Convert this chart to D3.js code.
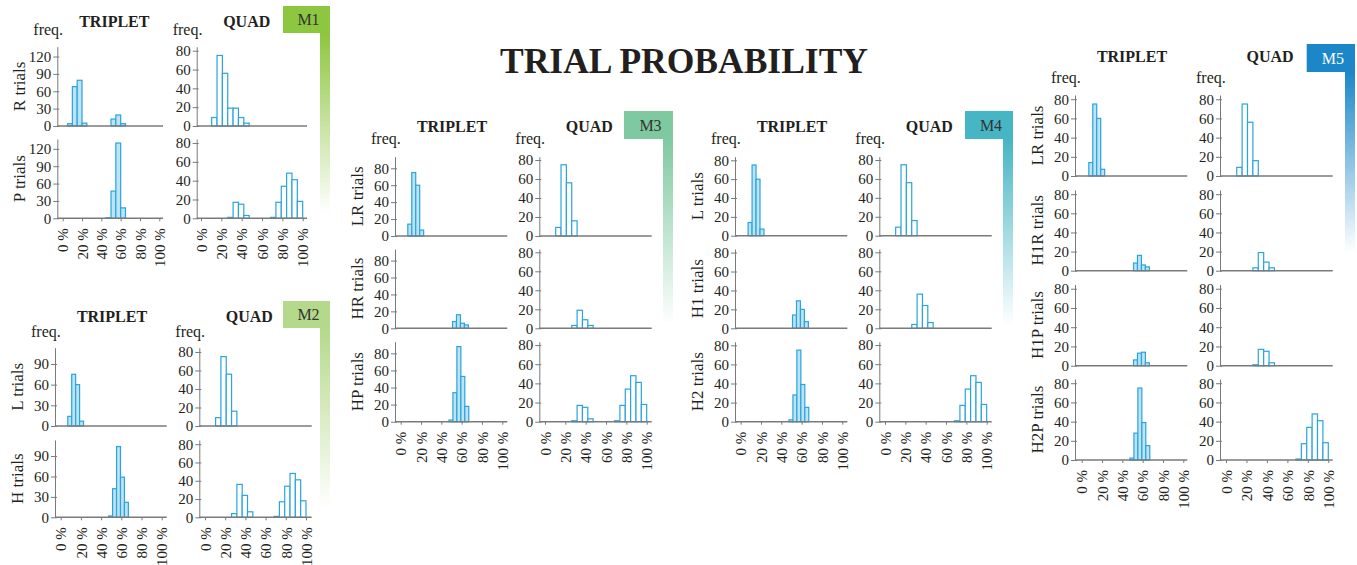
<!DOCTYPE html>
<html>
<head>
<meta charset="utf-8">
<script src="https://cdn.jsdelivr.net/npm/d3@7"></script>
<style>
  body { margin: 0; background: #fff; }
  svg text { font-family: "Liberation Serif", "DejaVu Serif", serif; fill: #231f20; }
  .head { font-weight: bold; font-size: 16px; }
  .freq { font-size: 16px; }
  .rowlab { font-size: 17px; }
  .tick text { font-size: 15px; font-family: "Liberation Serif", serif; fill: #231f20; }
  .mlab { font-size: 16px; }
  .title { font-size: 36px; font-weight: bold; }
</style>
</head>
<body>
<script>
// ---- data ----
var pctTicks = [0, 20, 40, 60, 80, 100];
var freqTicks = [0, 20, 40, 60, 80];
var m1TripletTicks = [0, 30, 60, 90, 120];
var m2TripletTicks = [0, 30, 60, 90];
var quadBin = 100 / 19;   // quad histogram bin width (%)

// each histogram: list of clusters [start %, [counts of consecutive bins]]
var m1Rows = ["R trials", "P trials"];
var m1Triplet = [
	[[5, [4, 68, 79, 5]], [50, [12, 19, 4]]],
	[[45, [1, 47, 130, 18]]]
];
var m1Quad = [
	[[10.5, [9, 75, 56, 19, 19, 9, 3]]],
	[[26.3, [1, 17, 15, 3]], [68.4, [1, 17, 34, 48, 41, 18]]]
];

var m2Rows = ["L trials", "H trials"];
var m2Triplet = [
	[[7, [14, 75, 60, 7]]],
	[[47.5, [2, 42, 104, 59, 22]]]
];
var m2Quad = [
	[[10.5, [9, 75, 56, 16]]],
	[[26.3, [4, 36, 24, 6]], [68.4, [1, 17, 34, 48, 41, 18]]]
];

var m3Rows = ["LR trials", "HR trials", "HP trials"];
var m3Triplet = [
	[[7, [14, 75, 60, 7]]],
	[[51, [8, 16, 6, 4]]],
	[[47.5, [2, 34, 88, 53, 18]]]
];
var m3Quad = [
	[[10.5, [9, 75, 56, 16]]],
	[[26.3, [3, 19, 9, 3]]],
	[[26.3, [1, 17, 15, 3]], [68.4, [1, 17, 34, 48, 41, 18]]]
];

var m4Rows = ["L trials", "H1 trials", "H2 trials"];
var m4Triplet = [
	[[7.3, [14, 75, 60, 7]]],
	[[51, [14, 29, 20, 7]]],
	[[47.5, [2, 28, 75, 39, 15]]]
];
var m4Quad = [
	[[10.5, [9, 75, 56, 16]]],
	[[26.3, [4, 36, 24, 6]]],
	[[68.4, [1, 17, 34, 48, 41, 18]]]
];

var m5Rows = ["LR trials", "H1R trials", "H1P trials", "H2P trials"];
var m5Triplet = [
	[[7, [14, 75, 60, 7]]],
	[[51, [8, 16, 6, 4]]],
	[[51, [6, 13, 14, 3]]],
	[[47.5, [2, 28, 75, 39, 15]]]
];
var m5Quad = [
	[[10.5, [9, 75, 56, 16]]],
	[[26.3, [3, 19, 9, 3]]],
	[[26.3, [1, 17, 15, 3]]],
	[[68.4, [1, 17, 34, 48, 41, 18]]]
];

var modules = [
	{ name: "M1", rows: m1Rows, triplet: m1Triplet, quad: m1Quad, tripBin: 5, tripTicks: m1TripletTicks },
	{ name: "M2", rows: m2Rows, triplet: m2Triplet, quad: m2Quad, tripBin: 3.9, tripTicks: m2TripletTicks },
	{ name: "M3", rows: m3Rows, triplet: m3Triplet, quad: m3Quad, tripBin: 3.9, tripTicks: freqTicks },
	{ name: "M4", rows: m4Rows, triplet: m4Triplet, quad: m4Quad, tripBin: 3.9, tripTicks: freqTicks },
	{ name: "M5", rows: m5Rows, triplet: m5Triplet, quad: m5Quad, tripBin: 3.9, tripTicks: freqTicks }
];

// ---- layout (pixels) ----
var layout = {
	M1: { trip: { ax: 57.3, x0: 62.7, x100: 159.3, end: 163 }, quad: { ax: 196.7, x0: 201, x100: 302.7, end: 307 },
		zeros: [126, 218.3], tops: [46.7, 139], tripTop: 137, quadTop: 84.3,
		titleY: 27, freqY: 35, box: [283, 6, 47, 27], stripEnd: 213, color: "#8dc63f", textColor: "#333" },
	M2: { trip: { ax: 55, x0: 60.7, x100: 161.7, end: 166.7 }, quad: { ax: 199.3, x0: 205, x100: 306, end: 311.7 },
		zeros: [426, 517.3], tops: [347.7, 440], tripTop: 113.6, quadTop: 84.6,
		titleY: 321.7, freqY: 336.7, box: [283, 301, 47, 27], stripEnd: 508, color: "#b5d98a", textColor: "#333" },
	M3: { trip: { ax: 395, x0: 400.7, x100: 502.3, end: 507.3 }, quad: { ax: 539.3, x0: 545, x100: 646.7, end: 651.7 },
		zeros: [236, 328.3, 421.7], tops: [156.7, 249, 341.7], tripTop: 93.7, quadTop: 83.5,
		titleY: 132.3, freqY: 144.3, box: [624, 111, 49, 28], stripEnd: 325, color: "#7fc9a1", textColor: "#333" },
	M4: { trip: { ax: 735, x0: 740.7, x100: 842.3, end: 847.3 }, quad: { ax: 879.3, x0: 885, x100: 986.7, end: 991.7 },
		zeros: [235.7, 328.3, 421.7], tops: [156.7, 249, 341.7], tripTop: 83.8, quadTop: 83.5,
		titleY: 132.3, freqY: 144.3, box: [965, 111, 48, 28], stripEnd: 325, color: "#46b5c4", textColor: "#333" },
	M5: { trip: { ax: 1075, x0: 1081.7, x100: 1183.3, end: 1187.3 }, quad: { ax: 1220, x0: 1226, x100: 1328.3, end: 1332.7 },
		zeros: [176, 270.7, 365.7, 460], tops: [95, 190, 284.5, 379], tripTop: 84.4, quadTop: 84.4,
		titleY: 61.7, freqY: 83.3, box: [1306.7, 44, 48.3, 28], stripEnd: 253, color: "#1b87c9", textColor: "#fff" }
};

var barStroke = "#2aa4dd";
var tripFill = "#bde3f6";
var axisGray = "#7a7a7a";

var svg = d3.select("body").append("svg")
	.attr("width", 1357)
	.attr("height", 565);
var defs = svg.append("defs");

svg.append("text")
	.attr("class", "title")
	.attr("x", 684)
	.attr("y", 73)
	.attr("text-anchor", "middle")
	.attr("textLength", 368)
	.attr("lengthAdjust", "spacingAndGlyphs")
	.text("TRIAL PROBABILITY");

function toBars(clusters, binW) {
	var bars = [];
	clusters.forEach(function(c) {
		c[1].forEach(function(n, i) {
			bars.push({ x0: c[0] + i * binW, x1: c[0] + (i + 1) * binW, n: n });
		});
	});
	return bars;
}

function drawPlot(g, geo, zero, topPx, yTop, ticks, clusters, binW, fill, isLast) {
	var x = d3.scaleLinear().domain([0, 100]).range([geo.x0, geo.x100]);
	var y = d3.scaleLinear().domain([0, yTop]).range([zero, topPx]);

	// y axis
	var yAxis = d3.axisLeft(y).tickValues(ticks).tickSizeInner(4).tickSizeOuter(0).tickPadding(2);
	var ya = g.append("g")
		.attr("transform", "translate(" + geo.ax + ",0)")
		.call(yAxis);
	ya.select(".domain").attr("stroke", axisGray).attr("stroke-width", 1);
	ya.selectAll(".tick line").attr("stroke", axisGray).attr("x1", 2);

	// bars
	g.selectAll("rect.bar")
		.data(toBars(clusters, binW))
		.enter()
		.append("rect")
		.attr("class", "bar")
		.attr("x", function(d) { return x(d.x0); })
		.attr("width", function(d) { return x(d.x1) - x(d.x0); })
		.attr("y", function(d) { return y(d.n); })
		.attr("height", function(d) { return zero - y(d.n); })
		.attr("fill", fill)
		.attr("stroke", barStroke)
		.attr("stroke-width", 1.2);

	// x axis line
	g.append("line")
		.attr("x1", geo.ax).attr("x2", geo.end)
		.attr("y1", zero).attr("y2", zero)
		.attr("stroke", axisGray)
		.attr("stroke-width", 1.6);

	if (isLast) {
		var xAxis = d3.axisBottom(x).tickValues(pctTicks).tickSizeInner(3).tickSizeOuter(0)
			.tickFormat(function(d) { return d + " %"; });
		var xa = g.append("g")
			.attr("transform", "translate(0," + zero + ")")
			.call(xAxis);
		xa.select(".domain").remove();
		xa.selectAll(".tick line").attr("stroke", axisGray);
		xa.selectAll(".tick text")
			.attr("transform", "rotate(-90)")
			.attr("text-anchor", "end")
			.attr("x", -10)
			.attr("y", 0)
			.attr("dy", "0.35em");
	}
}

modules.forEach(function(m) {
	var L = layout[m.name];
	var g = svg.append("g");
	var b = L.box;

	// colour tab and fading strip
	var gid = "grad" + m.name;
	var lg = defs.append("linearGradient").attr("id", gid)
		.attr("x1", 0).attr("y1", 0).attr("x2", 0).attr("y2", 1);
	lg.append("stop").attr("offset", "0%").attr("stop-color", L.color).attr("stop-opacity", 1);
	lg.append("stop").attr("offset", "100%").attr("stop-color", L.color).attr("stop-opacity", 0);
	g.append("rect")
		.attr("x", b[0] + b[2] - 10).attr("y", b[1] + b[3])
		.attr("width", 10).attr("height", L.stripEnd - b[1] - b[3])
		.attr("fill", "url(#" + gid + ")");
	g.append("rect")
		.attr("x", b[0]).attr("y", b[1]).attr("width", b[2]).attr("height", b[3])
		.attr("fill", L.color);
	g.append("text")
		.attr("class", "mlab")
		.attr("x", b[0] + b[2] / 2 + 2).attr("y", b[1] + b[3] / 2)
		.attr("dy", "0.35em")
		.attr("text-anchor", "middle")
		.style("fill", L.textColor)
		.text(m.name);

	// headers
	g.append("text").attr("class", "head")
		.attr("x", L.trip.ax + 57).attr("y", L.titleY)
		.attr("text-anchor", "middle").text("TRIPLET");
	g.append("text").attr("class", "head")
		.attr("x", L.quad.ax + 50).attr("y", L.titleY)
		.attr("text-anchor", "middle").text("QUAD");
	g.append("text").attr("class", "freq")
		.attr("x", L.trip.ax - 24).attr("y", L.freqY).text("freq.");
	g.append("text").attr("class", "freq")
		.attr("x", L.quad.ax - 24).attr("y", L.freqY).text("freq.");

	m.rows.forEach(function(label, i) {
		var zero = L.zeros[i], top = L.tops[i];
		var isLast = i === m.rows.length - 1;
		g.append("text").attr("class", "rowlab")
			.attr("transform", "translate(" + (L.trip.ax - 38) + "," + ((zero + top) / 2) + ") rotate(-90)")
			.attr("text-anchor", "middle")
			.attr("dy", "0.35em")
			.text(label);
		drawPlot(g.append("g"), L.trip, zero, top, L.tripTop, m.tripTicks, m.triplet[i], m.tripBin, tripFill, isLast);
		drawPlot(g.append("g"), L.quad, zero, top, L.quadTop, freqTicks, m.quad[i], quadBin, "#fff", isLast);
	});
});
</script>
</body>
</html>
